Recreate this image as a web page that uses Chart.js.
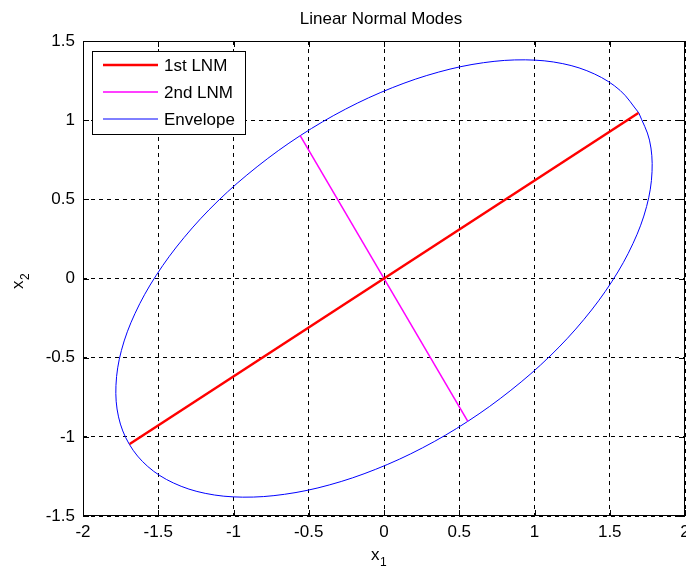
<!DOCTYPE html>
<html>
<head>
<meta charset="utf-8">
<title>Linear Normal Modes</title>
<script src="https://cdn.jsdelivr.net/npm/chart.js@4.4.0/dist/chart.umd.min.js"></script>
<style>
  html, body { margin: 0; padding: 0; background: #fff; }
  #wrap { width: 686px; height: 567px; }
</style>
</head>
<body>
<div id="wrap"><canvas id="myChart" width="686" height="567"></canvas></div>
<script>
'use strict';

// values

let xTicks = [-2, -1.5, -1, -0.5, 0, 0.5, 1, 1.5, 2];
let yTicks = [-1.5, -1, -0.5, 0, 0.5, 1, 1.5];

let lnm1X = [-1.69, 1.69];
let lnm1Y = [-1.045, 1.045];

let lnm2X = [-0.557, 0.557];
let lnm2Y = [0.902, -0.902];

let envelopeX = [1.693, 1.764, 1.781, 1.745, 1.655, 1.515, 1.329, 1.103, 0.843, 0.557,
  0.255, -0.055, -0.364, -0.661, -0.939, -1.188, -1.400, -1.570, -1.693,
  -1.764, -1.781, -1.745, -1.655, -1.515, -1.329, -1.103, -0.843, -0.557,
  -0.255, 0.055, 0.364, 0.661, 0.939, 1.188, 1.400, 1.570, 1.693];
let envelopeY = [1.046, 0.874, 0.675, 0.455, 0.222, -0.018, -0.258, -0.490, -0.706, -0.902,
  -1.070, -1.205, -1.304, -1.363, -1.381, -1.357, -1.291, -1.187, -1.046,
  -0.874, -0.675, -0.455, -0.222, 0.018, 0.258, 0.490, 0.706, 0.902,
  1.070, 1.205, 1.304, 1.363, 1.381, 1.357, 1.291, 1.187, 1.046];

let titleText = 'Linear Normal Modes';
let legendLabels = ['1st LNM', '2nd LNM', 'Envelope'];
let seriesColors = ['#ff0000', '#ff00ff', '#0000ff'];
let seriesWidths = [2.5, 1.5, 1];

const FONT = '"Liberation Sans", Arial, Helvetica, sans-serif';

function toPoints(xs, ys) {
  let pts = [];
  for (let i = 0; i < xs.length; i++) {
    pts.push({ x: xs[i], y: ys[i] });
  }
  return pts;
}

// box, inward ticks, title, axis labels and legend, matlab style
const matlabAxes = {
  id: 'matlabAxes',
  afterDraw(chart) {
    const ctx = chart.ctx;
    const area = chart.chartArea;
    const xs = chart.scales.x;
    const ys = chart.scales.y;
    const tick = 6;

    ctx.save();
    ctx.strokeStyle = '#000';
    ctx.lineWidth = 1;
    ctx.setLineDash([]);

    // inward tick marks on all four sides
    ctx.beginPath();
    xTicks.forEach(v => {
      let px = Math.round(xs.getPixelForValue(v)) + 0.5;
      ctx.moveTo(px, area.bottom);
      ctx.lineTo(px, area.bottom - tick);
      ctx.moveTo(px, area.top);
      ctx.lineTo(px, area.top + tick);
    });
    yTicks.forEach(v => {
      let py = Math.round(ys.getPixelForValue(v)) + 0.5;
      ctx.moveTo(area.left, py);
      ctx.lineTo(area.left + tick, py);
      ctx.moveTo(area.right, py);
      ctx.lineTo(area.right - tick, py);
    });
    ctx.stroke();

    // axes box
    ctx.strokeRect(Math.round(area.left) + 0.5, Math.round(area.top) + 0.5,
      Math.round(area.right - area.left) - 1, Math.round(area.bottom - area.top) - 1);

    // title
    ctx.fillStyle = '#000';
    ctx.font = '17px ' + FONT;
    ctx.textAlign = 'center';
    ctx.textBaseline = 'middle';
    ctx.fillText(titleText, 381, 19);

    // x label: x with subscript 1
    ctx.textAlign = 'left';
    ctx.textBaseline = 'alphabetic';
    ctx.font = '17px ' + FONT;
    ctx.fillText('x', 371, 560);
    ctx.font = '12px ' + FONT;
    ctx.fillText('1', 380, 566);

    // y label: rotated x with subscript 2
    ctx.save();
    ctx.translate(23, 289);
    ctx.rotate(-Math.PI / 2);
    ctx.font = '17px ' + FONT;
    ctx.fillText('x', 0, 0);
    ctx.font = '12px ' + FONT;
    ctx.fillText('2', 9, 6);
    ctx.restore();

    // legend box
    ctx.fillStyle = '#fff';
    ctx.fillRect(92, 51, 153, 83);
    ctx.strokeStyle = '#000';
    ctx.lineWidth = 1;
    ctx.strokeRect(92.5, 51.5, 153, 83);

    ctx.font = '17px ' + FONT;
    ctx.textAlign = 'left';
    ctx.textBaseline = 'middle';
    for (let i = 0; i < legendLabels.length; i++) {
      let y = 65 + i * 27;
      ctx.beginPath();
      ctx.strokeStyle = seriesColors[i];
      ctx.lineWidth = seriesWidths[i];
      ctx.moveTo(103, y);
      ctx.lineTo(158, y);
      ctx.stroke();
      ctx.fillStyle = '#000';
      ctx.fillText(legendLabels[i], 164, y + 1);
    }
    ctx.restore();
  }
};

Chart.defaults.font.family = FONT;
Chart.defaults.font.size = 17;
Chart.defaults.color = '#000';

const data = {
  datasets: [{
    label: legendLabels[0],
    data: toPoints(lnm1X, lnm1Y),
    borderColor: seriesColors[0],
    borderWidth: seriesWidths[0],
    showLine: true,
    pointRadius: 0
  },
  {
    label: legendLabels[1],
    data: toPoints(lnm2X, lnm2Y),
    borderColor: seriesColors[1],
    borderWidth: seriesWidths[1],
    showLine: true,
    pointRadius: 0
  },
  {
    label: legendLabels[2],
    data: toPoints(envelopeX, envelopeY),
    borderColor: seriesColors[2],
    borderWidth: seriesWidths[2],
    showLine: true,
    pointRadius: 0,
    tension: 0.35
  }]
};

const config = {
  type: 'scatter',
  data: data,
  options: {
    responsive: false,
    animation: false,
    layout: {
      padding: { top: 41, right: 1, left: 0, bottom: 0 }
    },
    plugins: {
      legend: { display: false },
      tooltip: { enabled: false },
      title: { display: false }
    },
    scales: {
      x: {
        type: 'linear',
        min: -2,
        max: 2,
        afterBuildTicks: s => { s.ticks = xTicks.map(v => ({ value: v })); },
        afterFit: s => { s.height = 51; s.paddingLeft = 0; s.paddingRight = 0; },
        ticks: {
          padding: 6,
          maxRotation: 0,
          callback: v => String(v)
        },
        grid: { color: '#000', lineWidth: 1, drawTicks: false },
        border: { display: false, dash: [4, 4] }
      },
      y: {
        type: 'linear',
        min: -1.5,
        max: 1.5,
        afterBuildTicks: s => { s.ticks = yTicks.map(v => ({ value: v })); },
        afterFit: s => { s.width = 83; s.paddingTop = 0; s.paddingBottom = 0; },
        ticks: {
          padding: 8,
          callback: v => String(v)
        },
        grid: { color: '#000', lineWidth: 1, drawTicks: false },
        border: { display: false, dash: [4, 4] }
      }
    }
  },
  plugins: [matlabAxes]
};

let canvasChart = document.getElementById('myChart');
const myChart = new Chart(canvasChart, config);
</script>
</body>
</html>
